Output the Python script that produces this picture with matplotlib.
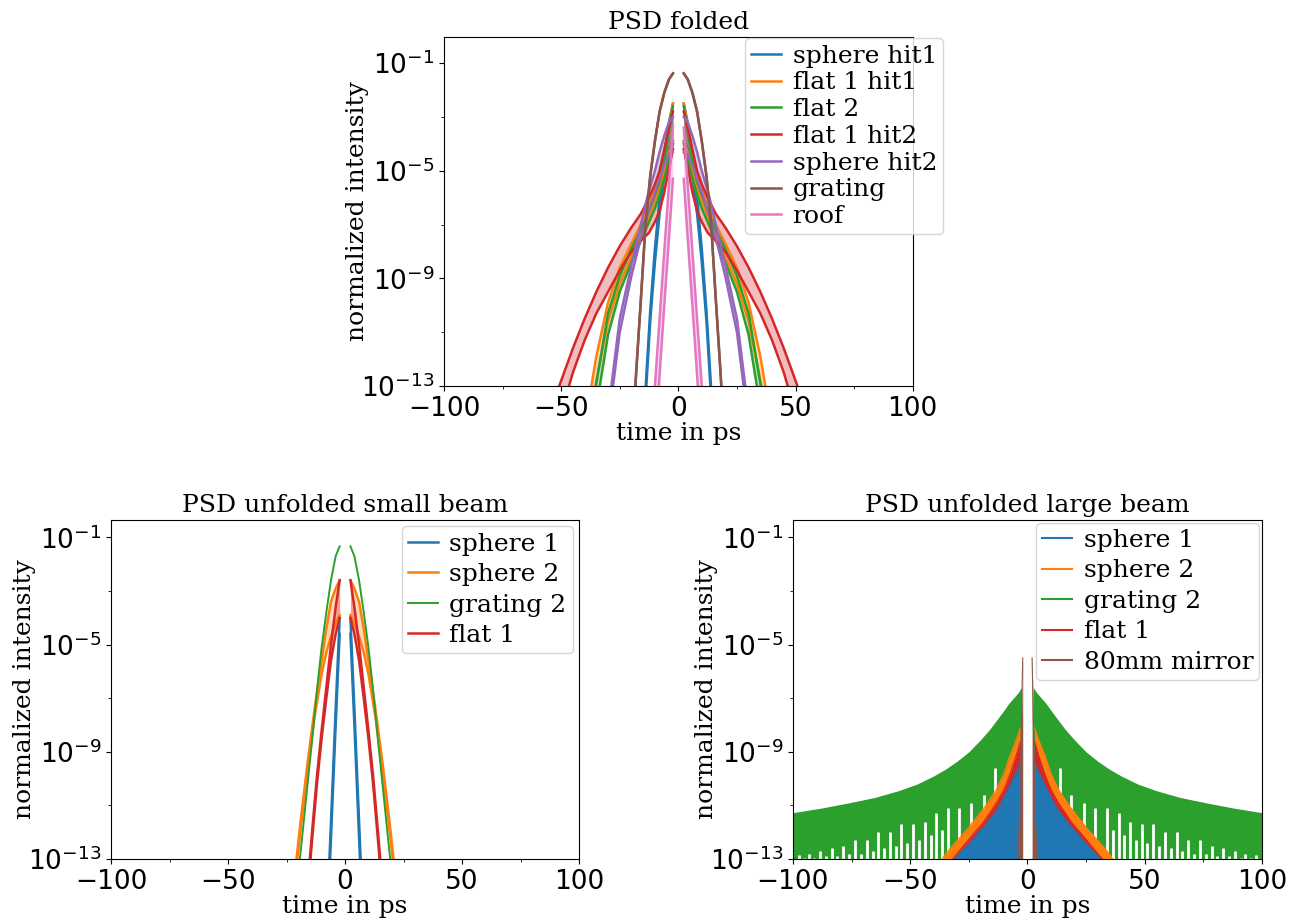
import numpy as np
import matplotlib.pyplot as plt
from matplotlib.ticker import FixedLocator, NullFormatter, LogFormatterSciNotation

# values are log10 of the normalized intensity, t in ps (positive side, curves are mirrored)

# --- PSD folded ---
f_names = ['sphere hit1', 'flat 1 hit1', 'flat 2', 'flat 1 hit2', 'sphere hit2', 'grating', 'roof']

f_t_sph1 = [2.3, 4, 6, 8, 10, 12, 14, 16]
f_hi_sph1 = [-2.5, -3.2, -4.4, -6.0, -7.9, -10.2, -13.1, -16.0]
f_lo_sph1 = [-3.9, -4.2, -5.2, -6.6, -8.4, -10.6, -13.5, -16.4]

f_t_flat1 = [2.3, 4, 6, 8, 10, 13, 16, 20, 25, 30, 35, 40]
f_hi_flat1 = [-2.5, -3.3, -4.3, -5.1, -5.7, -6.4, -7.0, -7.7, -8.6, -9.9, -11.9, -14.5]
f_lo_flat1 = [-3.9, -4.3, -5.0, -5.6, -6.1, -6.8, -7.4, -8.2, -9.2, -10.6, -12.8, -15.5]

f_t_flat2 = [2.3, 4, 6, 8, 10, 13, 16, 20, 25, 30, 35, 40]
f_hi_flat2 = [-2.6, -3.5, -4.6, -5.4, -5.9, -6.6, -7.2, -7.9, -8.9, -10.3, -12.9, -15.5]
f_lo_flat2 = [-4.0, -4.6, -5.3, -5.9, -6.4, -7.0, -7.6, -8.4, -9.5, -11.1, -13.8, -16.5]

f_t_flat1h2 = [2.3, 4, 6, 8, 10, 12.5, 16, 20, 25, 30, 35, 40, 45, 50, 55]
f_hi_flat1h2 = [-2.8, -3.4, -4.2, -5.0, -5.5, -6.0, -6.6, -7.1, -7.8, -8.6, -9.5, -10.5, -11.6, -12.8, -14.0]
f_lo_flat1h2 = [-4.2, -4.9, -5.8, -6.5, -6.9, -7.3, -7.6, -8.0, -8.7, -9.5, -10.3, -11.3, -12.5, -14.0, -15.3]

f_t_sph2 = [2.3, 4, 6, 8, 10, 13, 16, 20, 25, 30, 35]
f_hi_sph2 = [-3.0, -3.2, -3.7, -4.3, -5.0, -5.9, -7.0, -8.5, -10.5, -14.0, -17.0]
f_lo_sph2 = [-4.3, -4.4, -4.8, -5.3, -5.8, -6.6, -7.5, -8.9, -11.0, -14.5, -17.5]

f_t_grat = [2.3, 4, 6, 8, 10, 12, 14, 16, 18, 20]
f_hi_grat = [-1.38, -1.6, -2.1, -2.8, -3.9, -5.2, -7.0, -9.8, -12.5, -15.5]
f_lo_grat = [-1.38, -1.6, -2.1, -2.8, -3.9, -5.2, -7.0, -9.8, -12.5, -15.5]

f_t_roof = [2.3, 4, 6, 8, 10, 12]
f_hi_roof = [-3.4, -5.5, -8.0, -10.5, -13.0, -15.5]
f_lo_roof = [-5.3, -7.5, -10.0, -12.6, -15.2, -17.8]

# --- PSD unfolded small beam ---
s_names = ['sphere 1', 'sphere 2', 'grating 2', 'flat 1']

s_t_sph1 = [2.3, 4, 6, 8]
s_hi_sph1 = [-4.0, -7.4, -11.6, -15.8]
s_lo_sph1 = [-4.6, -8.0, -12.2, -16.4]

s_t_sph2 = [2.3, 4, 6, 8, 10, 13, 16, 19, 21, 23]
s_hi_sph2 = [-2.6, -2.9, -3.4, -4.4, -5.6, -7.4, -9.4, -11.6, -13.2, -14.8]
s_lo_sph2 = [-3.9, -4.2, -4.7, -5.3, -6.1, -7.7, -9.7, -11.9, -13.5, -15.0]

s_t_grat2 = [2.3, 4, 6, 8, 10, 12, 14, 16, 18, 20, 22]
s_v_grat2 = [-1.33, -1.7, -2.6, -3.8, -5.1, -6.7, -8.5, -10.2, -11.9, -13.6, -15.4]

s_t_flat1 = [2.3, 4, 6, 8, 10, 12, 14, 16, 18]
s_hi_flat1 = [-2.6, -3.6, -5.0, -6.6, -8.2, -9.9, -11.9, -14.0, -16.0]
s_lo_flat1 = [-4.0, -4.6, -5.6, -7.0, -8.5, -10.2, -12.2, -14.3, -16.3]

# --- PSD unfolded large beam (envelopes; lower side of every band is below 1e-13) ---
l_names = ['sphere 1', 'sphere 2', 'grating 2', 'flat 1', '80mm mirror']

l_t_sph1 = [3.0, 5, 7.7, 10, 13.2, 18.6, 25.8, 31, 34]
l_hi_sph1 = [-9.4, -9.8, -10.3, -10.7, -11.2, -11.8, -12.5, -13.0, -13.4]

l_t_sph2 = [3.0, 5, 7.7, 10, 13.2, 18.6, 25.8, 33, 35.7, 38]
l_hi_sph2 = [-8.1, -8.6, -9.2, -9.8, -10.4, -11.1, -11.9, -12.6, -12.9, -13.3]

l_t_grat2 = [2.5, 4, 6, 8, 10, 13, 16, 20, 25, 30, 35, 40, 47, 55, 65, 76, 88, 100]
l_hi_grat2 = [-6.6, -6.8, -7.0, -7.2, -7.45, -7.8, -8.15, -8.55, -9.0, -9.35, -9.65, -9.9,
              -10.2, -10.45, -10.7, -10.9, -11.1, -11.27]
# positions and upper ends of the deep minima of grating 2
l_dip_t = [7.5, 11, 14, 18.6, 24, 29, 33.9, 36.4, 38.9, 41.3, 43.8, 46.3, 48.8, 51.2, 53.7,
           56.2, 58.7, 61.1, 63.6, 66, 68.5, 71, 73.5, 76, 78.6, 81, 83.4, 86, 88.5, 91, 93, 95.3, 97.5]
l_dip_top = [-9.8, -10.2, -9.6, -10.6, -10.9, -11.1, -11.1, -11.9, -11.3, -12.1, -11.6, -12.3,
             -11.7, -12.4, -11.7, -12.5, -12.0, -12.6, -12.0, -12.7, -12.3, -12.8, -12.3,
             -12.8, -12.5, -12.9, -12.6, -12.9, -12.7, -12.95, -12.8, -12.95, -12.85]

l_t_flat1 = [3.0, 5, 7.7, 10, 13.2, 18.6, 25.8, 32, 35]
l_hi_flat1 = [-8.6, -9.2, -9.9, -10.4, -10.9, -11.6, -12.35, -13.0, -13.4]

l_t_mirr = [2.0, 2.3, 2.8, 3.4, 4.0, 4.4]
l_hi_mirr = [-5.5, -6.8, -9.0, -11.5, -13.0, -14.5]

colors = ['#1f77b4', '#ff7f0e', '#2ca02c', '#d62728', '#9467bd', '#8c564b', '#e377c2']

plt.rcParams['font.family'] = 'DejaVu Sans'
serif = 'DejaVu Serif'
lab_fs = 18
tick_fs = 19


def both(t, v):
    t = np.asarray(t, float)
    v = np.power(10.0, np.asarray(v, float))
    return -t[::-1], v[::-1], t, v


def band(ax, t, hi, lo, c, label):
    hn, hv_n, hp, hv_p = both(t, hi)
    _, lv_n, _, lv_p = both(t, lo)
    for tt, vl, vh, lab in [(hn, lv_n, hv_n, label), (hp, lv_p, hv_p, None)]:
        ax.fill_between(tt, vl, vh, color=c, alpha=0.3, lw=0)
        ax.plot(tt, vh, color=c, lw=1.8, label=lab)
        ax.plot(tt, vl, color=c, lw=1.8)


def line(ax, t, v, c, label, lw=1.4):
    tn, vn, tp, vp = both(t, v)
    ax.plot(tn, vn, color=c, lw=lw, label=label)
    ax.plot(tp, vp, color=c, lw=lw)


def filled(ax, t, hi, c, label):
    tn, vn, tp, vp = both(t, hi)
    for tt, vv in [(tn, vn), (tp, vp)]:
        ax.fill_between(tt, 1e-20, vv, color=c, lw=0, zorder=1)
    ax.plot(tn, vn, color=c, lw=0.8, label=label, zorder=1)
    ax.plot(tp, vp, color=c, lw=0.8, zorder=1)


def style(ax, title, ytop):
    ax.set_yscale('log')
    ax.set_xlim(-100, 100)
    ax.set_ylim(1e-13, ytop)
    ax.yaxis.set_major_locator(FixedLocator([1e-13, 1e-9, 1e-5, 1e-1]))
    ax.yaxis.set_major_formatter(LogFormatterSciNotation())
    ax.yaxis.set_minor_locator(FixedLocator([1e-11, 1e-7, 1e-3]))
    ax.yaxis.set_minor_formatter(NullFormatter())
    ax.xaxis.set_major_locator(FixedLocator([-100, -50, 0, 50, 100]))
    ax.xaxis.set_minor_locator(FixedLocator([-75, -25, 25, 75]))
    ax.tick_params(labelsize=tick_fs)
    ax.set_title(title, fontfamily=serif, fontsize=lab_fs)
    ax.set_xlabel('time in ps', fontfamily=serif, fontsize=lab_fs, labelpad=0)
    ax.set_ylabel('normalized intensity', fontfamily=serif, fontsize=lab_fs, labelpad=-6)


def legend(ax, handles=None, labels=None, **kw):
    opts = dict(prop={'family': serif, 'size': lab_fs}, handlelength=1.2,
                handletextpad=0.45, borderpad=0.25)
    opts.update(kw)
    if handles is None:
        return ax.legend(**opts)
    return ax.legend(handles, labels, **opts)


fig = plt.figure(figsize=(13.02, 9.22), dpi=100)
ax1 = fig.add_axes([0.341, 0.5813, 0.360, 0.3785])
ax2 = fig.add_axes([0.0853, 0.0683, 0.3594, 0.3677])
ax3 = fig.add_axes([0.609, 0.0683, 0.3602, 0.3677])

# top
band(ax1, f_t_sph1, f_hi_sph1, f_lo_sph1, colors[0], f_names[0])
band(ax1, f_t_flat1, f_hi_flat1, f_lo_flat1, colors[1], f_names[1])
band(ax1, f_t_flat2, f_hi_flat2, f_lo_flat2, colors[2], f_names[2])
band(ax1, f_t_flat1h2, f_hi_flat1h2, f_lo_flat1h2, colors[3], f_names[3])
band(ax1, f_t_sph2, f_hi_sph2, f_lo_sph2, colors[4], f_names[4])
band(ax1, f_t_grat, f_hi_grat, f_lo_grat, colors[5], f_names[5])
band(ax1, f_t_roof, f_hi_roof, f_lo_roof, colors[6], f_names[6])
style(ax1, 'PSD folded', 10 ** -0.03)
legend(ax1, loc='upper right', bbox_to_anchor=(1.068, 1.0), borderaxespad=0.05,
       labelspacing=0.15)

# bottom left
band(ax2, s_t_sph1, s_hi_sph1, s_lo_sph1, colors[0], s_names[0])
band(ax2, s_t_sph2, s_hi_sph2, s_lo_sph2, colors[1], s_names[1])
line(ax2, s_t_grat2, s_v_grat2, colors[2], s_names[2])
band(ax2, s_t_flat1, s_hi_flat1, s_lo_flat1, colors[3], s_names[3])
style(ax2, 'PSD unfolded small beam', 10 ** -0.35)
legend(ax2, loc='upper right', borderaxespad=0.25, labelspacing=0.3)

# bottom right
tn, vn, tp, vp = both(l_t_grat2, l_hi_grat2)
ax3.fill_between(tn, 1e-20, vn, color=colors[2], lw=0, zorder=1)
ax3.fill_between(tp, 1e-20, vp, color=colors[2], lw=0, zorder=1)
ax3.plot([], [], color=colors[2], lw=1.5, label=l_names[2])
dips = np.asarray(l_dip_t)
tops = np.power(10.0, np.asarray(l_dip_top))
ax3.vlines(np.concatenate([-dips, dips]), 1e-20, np.concatenate([tops, tops]),
           color='white', lw=2.0, zorder=1)
filled(ax3, l_t_sph2, l_hi_sph2, colors[1], l_names[1])
filled(ax3, l_t_flat1, l_hi_flat1, colors[3], l_names[3])
filled(ax3, l_t_sph1, l_hi_sph1, colors[0], l_names[0])
filled(ax3, l_t_mirr, l_hi_mirr, colors[5], l_names[4])
style(ax3, 'PSD unfolded large beam', 10 ** -0.35)
h, l = ax3.get_legend_handles_labels()
order = [l.index(n) for n in l_names]
leg3 = legend(ax3, [h[i] for i in order], [l[i] for i in order], loc='upper right',
              borderaxespad=0.1, labelspacing=0.3)
for hl in leg3.get_lines():
    hl.set_linewidth(1.5)

fig.savefig('out.png', dpi=100)
